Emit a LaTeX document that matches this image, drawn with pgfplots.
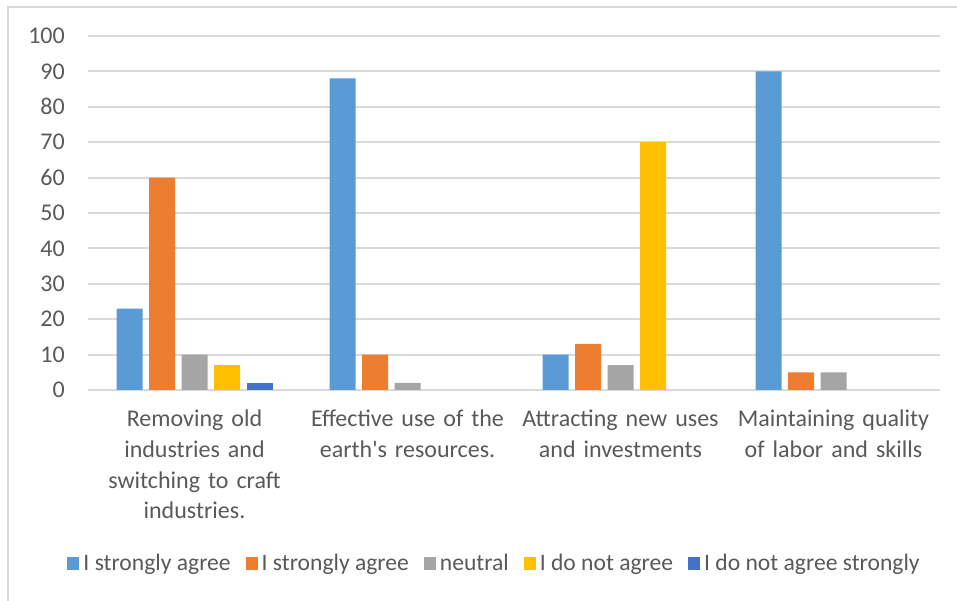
\documentclass[border=0pt]{standalone}
\usepackage{fontspec}
\setmainfont{Carlito}
\usepackage{pgfplots}
\pgfplotsset{compat=1.18}

\definecolor{sA}{HTML}{5B9BD5}
\definecolor{sB}{HTML}{ED7D31}
\definecolor{sC}{HTML}{A5A5A5}
\definecolor{sD}{HTML}{FFC000}
\definecolor{sE}{HTML}{4472C4}
\definecolor{gridc}{HTML}{D9D9D9}
\definecolor{txt}{HTML}{595959}

\begin{document}
\begin{tikzpicture}[x=1bp,y=1bp]
% frame of the chart area (only left and top edges show in the reference)
\useasboundingbox (0,0) rectangle (957,601);
\draw[gridc, line width=2bp] (8,0) -- (8,594) -- (957,594);

\begin{axis}[
  at={(88bp,211bp)}, anchor=south west,
  scale only axis,
  width=852bp, height=354bp,
  xmin=-0.5, xmax=3.5,
  ymin=0, ymax=100,
  ytick={0,10,...,100},
  xtick={0,1,2,3},
  xticklabels={{Removing old\\industries and\\switching to craft\\industries.},
               {Effective use of the\\earth\textquotesingle s resources.},
               {Attracting new uses\\and investments},
               {Maintaining quality\\of labor and skills}},
  axis line style={draw=none},
  major tick length=0pt,
  ymajorgrids,
  grid style={gridc, line width=2bp},
  font=\fontsize{24bp}{30.6bp}\selectfont,
  tick label style={text=txt},
  /pgf/number format/assume math mode=true,
  yticklabel style={anchor=east, inner sep=0pt, xshift=-23bp},
  xticklabel style={anchor=north, inner sep=0pt, yshift=-20bp, align=center, text width=212bp},
  ybar=6.5bp,
  bar width=26bp,
  legend columns=5,
  legend style={at={(0.476,-0.489)}, anchor=center, draw=none, fill=none,
    font=\fontsize{23.6bp}{30bp}\selectfont, text=txt,
    nodes={inner sep=0pt},
    /tikz/every odd column/.append style={column sep=4bp},
    /tikz/every even column/.append style={column sep=15bp}},
  legend image code/.code={\fill[#1] (0bp,-6.5bp) rectangle (12bp,6.5bp);},
]
% zero answers are left out: the reference draws no bar for them
\addplot[fill=sA, draw=none] coordinates {(0,23) (1,88) (2,10) (3,90)};
\addplot[fill=sB, draw=none] coordinates {(0,60) (1,10) (2,13) (3,5)};
\addplot[fill=sC, draw=none] coordinates {(0,10) (1,2) (2,7) (3,5)};
\addplot[fill=sD, draw=none] coordinates {(0,7) (2,70)};
\addplot[fill=sE, draw=none] coordinates {(0,2)};
\legend{I strongly agree, I strongly agree, neutral, I do not agree, I do not agree strongly}
\end{axis}
\end{tikzpicture}
\end{document}
